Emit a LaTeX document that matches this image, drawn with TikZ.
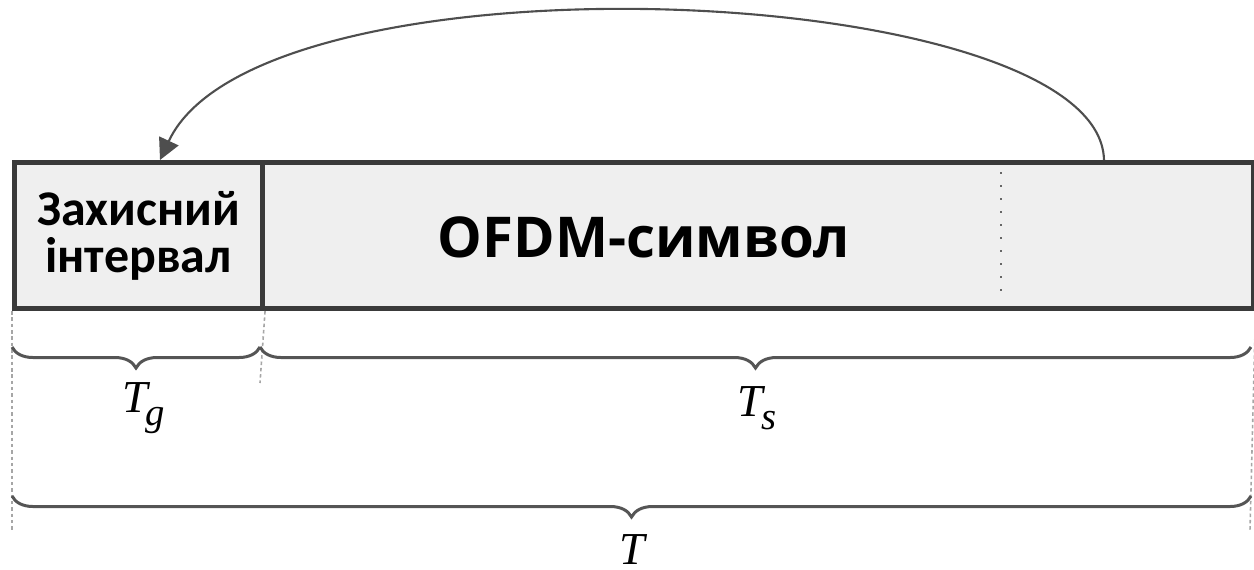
\documentclass[tikz,border=0pt]{standalone}
\usepackage{fontspec}
\setmainfont{Open Sans}
\newfontfamily\tnr{Liberation Serif}
\newfontfamily\carlitofont{Carlito}
\usetikzlibrary{arrows.meta,decorations.pathreplacing}
\definecolor{boxfill}{HTML}{EFEFEF}
\definecolor{boxline}{HTML}{3A3A3A}
\definecolor{brcol}{HTML}{555555}
\tikzset{
  cell/.style={draw=boxline, line width=1.4pt, fill=boxfill, rectangle, inner sep=0pt, anchor=north west, minimum height=1.46cm, align=center, font=\bfseries},
  guide/.style={draw=gray!70, line width=0.45pt, dash pattern=on 1pt off 0.8pt},
  brc/.style={draw=brcol, line width=0.85pt, decorate, decoration={brace, mirror, amplitude=0.21cm}},
  lbl/.style={font=\tnr\itshape\fontsize{13}{15}\selectfont, inner sep=0pt},
  feedback/.style={draw=boxline!90, line width=0.6pt, -{Triangle[length=6pt,width=6pt]}},
  inner/.style={draw=gray!80!black, line width=0.7pt, dash pattern=on 0.6pt off 3.1pt}
}
\begin{document}
\begin{tikzpicture}[x=0.01cm,y=-0.01cm]
\useasboundingbox (0,0) rectangle (1254,569);
% boxes
\node[cell, minimum width=2.48cm, font=\carlitofont\bfseries\fontsize{14.2}{13.4}\selectfont] (guard) at (12,160) {Захисний\\інтервал};
\node[cell, minimum width=9.9cm] (sym) at (260,160) {};
\node[font=\bfseries\fontsize{16}{18}\selectfont, inner sep=0pt] (symtxt) at (644,237) {OFDM-символ};
% dotted line inside
\coordinate (d1) at (1001,172);
\coordinate (d2) at (1001,296);
\draw[inner] (d1) -- (d2);
% feedback arrow
\coordinate (astart) at (1104,160);
\coordinate (aend) at (160,160);
\draw[feedback] (astart) .. controls (1100,-20) and (260,-55) .. (aend);
% guide lines
\coordinate (g1) at (12,530);
\coordinate (g2) at (260,383);
\coordinate (g3) at (1250,530);
\draw[guide] (guard.south west) -- (g1);
\draw[guide] (guard.south east) -- (g2);
\draw[guide] (sym.south east) -- (g3);
% braces
\coordinate (b1l) at (12,347);
\coordinate (b1r) at (260,347);
\coordinate (b2l) at (260,347);
\coordinate (b2r) at (1251,347);
\coordinate (b3l) at (12,496);
\coordinate (b3r) at (1251,496);
\draw[brc] (b1l) -- (b1r);
\draw[brc] (b2l) -- (b2r);
\draw[brc] (b3l) -- (b3r);
% labels
\node[lbl] (tg) at (144,408) {T\kern-0.05em\raisebox{-0.28em}{\fontsize{11}{12}\selectfont g}};
\node[lbl] (ts) at (757,408) {T\kern-0.05em\raisebox{-0.28em}{\fontsize{11}{12}\selectfont s}};
\node[lbl, anchor=north] (tt) at (632,534) {T};
\end{tikzpicture}
\end{document}
